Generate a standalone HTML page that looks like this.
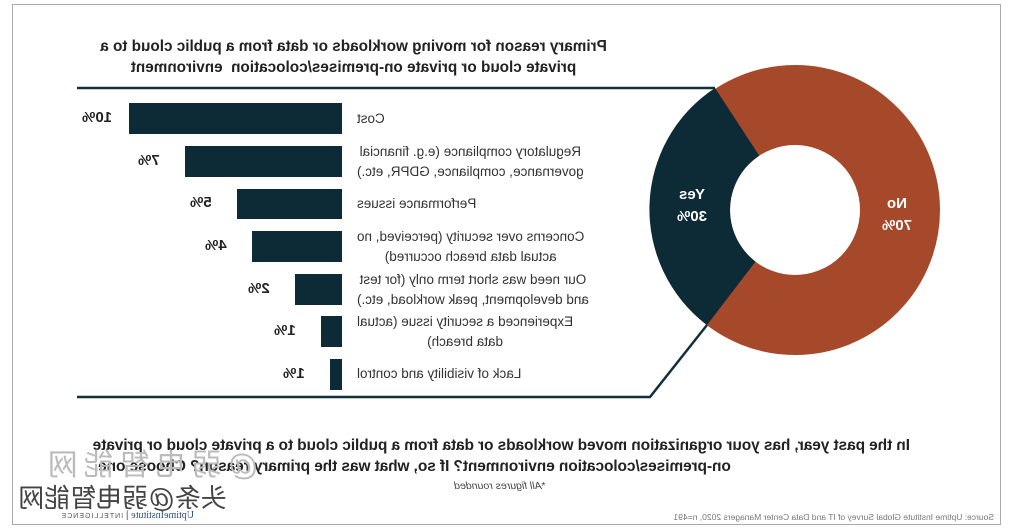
<!DOCTYPE html>
<html><head><meta charset="utf-8"><style>
html,body{margin:0;padding:0;background:#fff;}
#c{position:relative;width:1012px;height:528px;overflow:hidden;background:#fff;font-family:"Liberation Sans","Noto Sans CJK SC",sans-serif;color:#222;}
.m{position:absolute;transform:scaleX(-1);white-space:nowrap;}
.lab{font-size:13.5px;line-height:20px;color:#333;text-align:center;}
.pct{font-size:15px;font-weight:bold;color:#222;text-align:right;width:44px;}
.t{font-size:15px;font-weight:bold;color:#222;}
</style></head><body><div id="c">
<svg width="1012" height="528" style="position:absolute;left:0;top:0">
<rect x="12.5" y="4.5" width="988" height="520" fill="none" stroke="#aaa" stroke-width="1"/>
<polyline points="77,88 715,88" fill="none" stroke="#15303a" stroke-width="2.5"/>
<polyline points="77,397 650,397 707,325" fill="none" stroke="#15303a" stroke-width="2.5"/>
<circle cx="795" cy="210" r="105" fill="none" stroke="#a6482a" stroke-width="80"/>
<path d="M715,88 A145,145 0 0 0 707,325 L755.5,261.6 A65,65 0 0 1 759.3,155.7 Z" fill="#0d2b36"/>
<g fill="#0d2b36">
<rect x="129" y="103" width="213" height="31"/>
<rect x="185" y="146" width="157" height="31"/>
<rect x="237" y="189" width="105" height="30"/>
<rect x="252" y="231" width="90" height="31"/>
<rect x="295" y="274" width="47" height="31"/>
<rect x="321" y="316" width="21" height="31"/>
<rect x="330" y="359" width="12" height="31"/>
</g>
</svg>

<div class="m t" style="left:90px;top:36px;width:527px;text-align:center;line-height:21px;font-size:15.3px;">Primary reason for moving workloads or data from a public cloud to a<br>private cloud or private on-premises/colocation&nbsp; environment</div>

<div class="m lab" style="left:357px;top:109px;">Cost</div>
<div class="m lab" style="left:357px;top:142px;">Regulatory compliance (e.g. financial<br>governance, compliance, GDPR, etc.)</div>
<div class="m lab" style="left:357px;top:194px;">Performance issues</div>
<div class="m lab" style="left:357px;top:227px;">Concerns over security (perceived, no<br>actual data breach occurred)</div>
<div class="m lab" style="left:357px;top:270px;">Our need was short term only (for test<br>and development, peak workload, etc.)</div>
<div class="m lab" style="left:357px;top:312px;">Experienced a security issue (actual<br>data breach)</div>
<div class="m lab" style="left:357px;top:364px;">Lack of visibility and control</div>

<div class="m pct" style="left:82px;top:109px;">10%</div>
<div class="m pct" style="left:138px;top:152px;">7%</div>
<div class="m pct" style="left:190px;top:194px;">5%</div>
<div class="m pct" style="left:205px;top:237px;">4%</div>
<div class="m pct" style="left:248px;top:280px;">2%</div>
<div class="m pct" style="left:274px;top:322px;">1%</div>
<div class="m pct" style="left:283px;top:365px;">1%</div>

<div class="m" style="left:668px;top:184px;width:48px;text-align:center;color:#fff;font-weight:bold;font-size:15px;line-height:22px;">Yes<br>30%</div>
<div class="m" style="left:873px;top:193px;width:48px;text-align:center;color:#fff;font-weight:bold;font-size:15px;line-height:22px;">No<br>70%</div>

<div class="m t" style="left:94px;top:435px;width:816px;font-size:15.5px;line-height:21px;text-align:right;letter-spacing:-0.1px;">In the past year, has your organization moved workloads or data from a public cloud to a private cloud or private<br>on-premises/colocation environment? If so, what was the primary reason? Choose one.</div>
<div class="m" style="left:445px;top:480px;width:110px;font-size:10.5px;font-style:italic;color:#444;text-align:center;">*All figures rounded</div>

<div class="m" style="left:613px;top:512px;width:381px;font-size:8.5px;color:#777;text-align:left;">Source: Uptime Institute Global Survey of IT and Data Center Managers 2020, n=491</div>
<div class="m" style="left:23px;top:510px;width:171px;font-size:10px;color:#555;text-align:left;"><span style="color:#2a4f8a;font-family:'Liberation Serif',serif;">UptimeInstitute</span> | <span style="font-size:7px;letter-spacing:1px;">INTELLIGENCE</span></div>

<div class="m" style="left:40px;top:440px;width:220px;font-size:30px;color:#bbb;text-align:center;letter-spacing:6px;">@弱电智能网</div>
<div class="m" style="left:15px;top:478px;width:215px;font-size:26px;color:#444;text-align:center;">头条@弱电智能网</div>
</div></body></html>
